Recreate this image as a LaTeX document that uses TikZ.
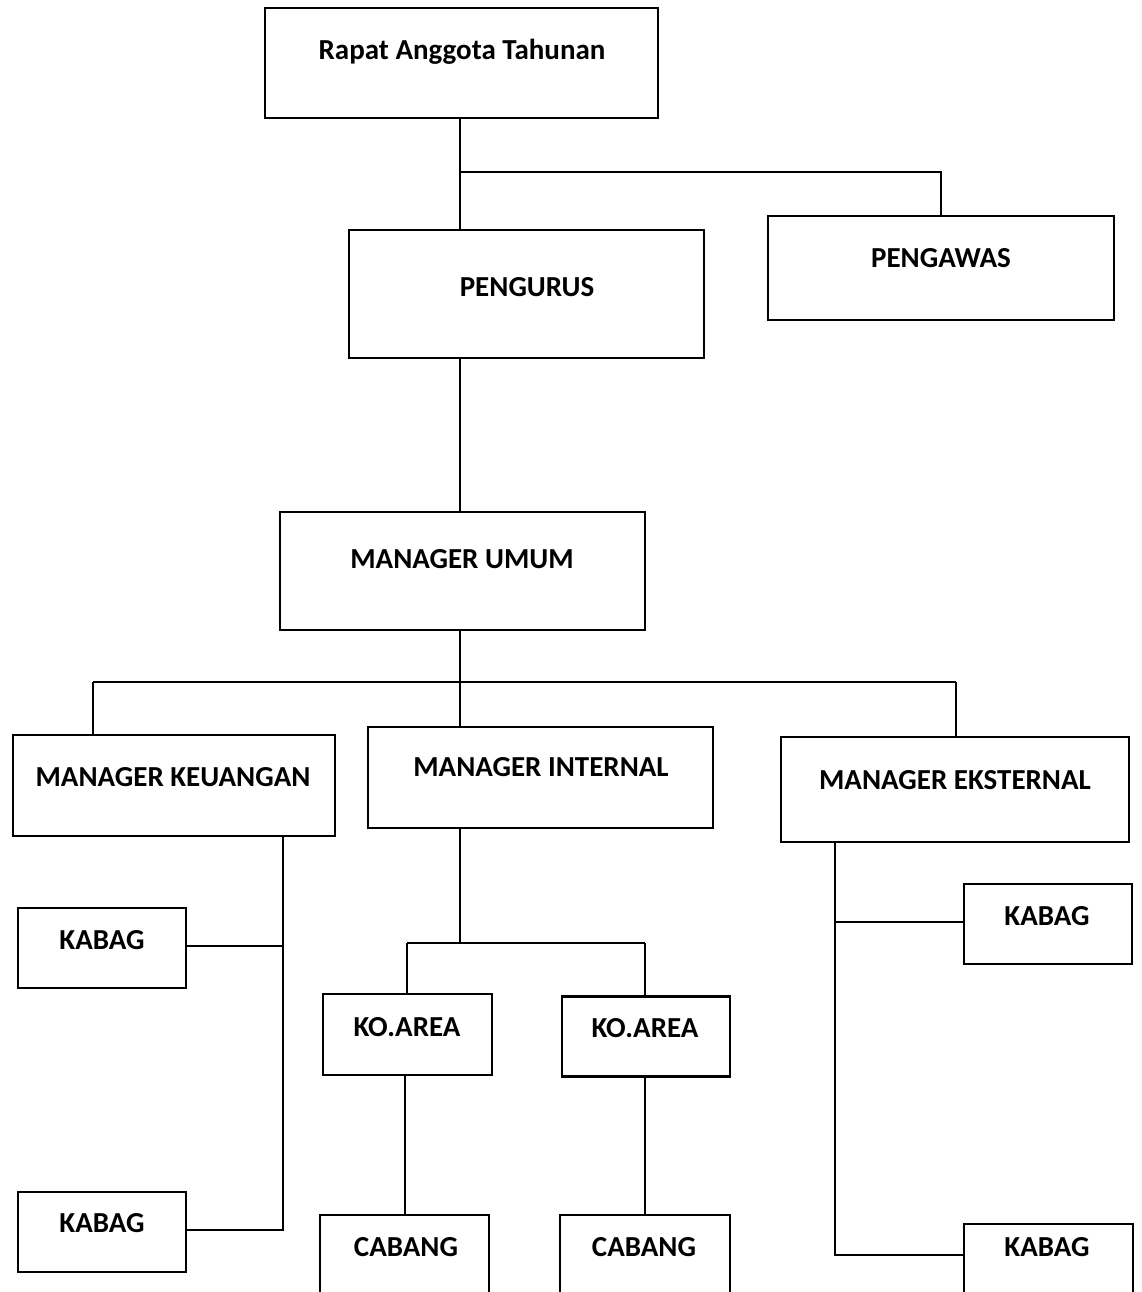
\documentclass[tikz,border=0pt]{standalone}
\usepackage{fontspec}
\setmainfont{Carlito}
\begin{document}
\begin{tikzpicture}[x=1pt,y=-1pt,
  box/.style={draw,line width=2.6pt,rectangle,inner sep=0pt,outer sep=0pt},
  lbl/.style={font=\bfseries\fontsize{29}{33}\selectfont,inner sep=0pt,anchor=base},
  conn/.style={line width=2pt}]
\path[use as bounding box] (0,0) rectangle (1141,1292);
\clip (0,0) rectangle (1141,1292);
% boxes
\node[box,minimum width=393pt,minimum height=110pt] (rat) at (461.5,63) {};
\node[box,minimum width=355pt,minimum height=128pt] (peng) at (526.5,294) {};
\node[box,minimum width=346pt,minimum height=104pt] (pgw) at (941,268) {};
\node[box,minimum width=365pt,minimum height=118pt] (mu) at (462.5,571) {};
\node[box,minimum width=322pt,minimum height=101pt] (mk) at (174,785.5) {};
\node[box,minimum width=345pt,minimum height=101pt] (mi) at (540.5,777.5) {};
\node[box,minimum width=348pt,minimum height=105pt] (me) at (955,789.5) {};
\node[box,minimum width=168pt,minimum height=80pt] (kb1) at (102,948) {};
\node[box,minimum width=168pt,minimum height=80pt] (kb2) at (102,1232) {};
\node[box,minimum width=169pt,minimum height=81pt] (ka1) at (407.5,1034.5) {};
\node[box,minimum width=168pt,minimum height=80pt] (ka2) at (646,1036.5) {};
\node[box,minimum width=169pt,minimum height=120pt] (cb1) at (404.5,1275) {};
\node[box,minimum width=170pt,minimum height=120pt] (cb2) at (645,1275) {};
\node[box,minimum width=168pt,minimum height=80pt] (kb3) at (1048,924) {};
\node[box,minimum width=169pt,minimum height=120pt] (kb4) at (1048.5,1284) {};
% labels
\node[lbl] (tRat) at (462,60) {Rapat Anggota Tahunan};
\node[lbl] (tPeng) at (527,296) {PENGURUS};
\node[lbl] (tPgw) at (941,267.5) {PENGAWAS};
\node[lbl] (tMu) at (462,568.5) {MANAGER UMUM};
\node[lbl] (tMk) at (173,786) {MANAGER KEUANGAN};
\node[lbl] (tMi) at (541,776.5) {MANAGER INTERNAL};
\node[lbl] (tMe) at (955,789.5) {MANAGER EKSTERNAL};
\node[lbl] (tKb1) at (102,949) {KABAG};
\node[lbl] (tKb2) at (102,1232.5) {KABAG};
\node[lbl] (tKa1) at (407,1036.5) {KO.AREA};
\node[lbl] (tKa2) at (645,1037.5) {KO.AREA};
\node[lbl] (tCb1) at (406,1256.5) {CABANG};
\node[lbl] (tCb2) at (644,1256.5) {CABANG};
\node[lbl] (tKb3) at (1047,925.5) {KABAG};
\node[lbl] (tKb4) at (1047,1256.5) {KABAG};
% junction coordinates
\coordinate (j1) at (460,172);
\coordinate (j2) at (460,682);
\coordinate (j3) at (460,943);
\coordinate (kv) at (283,946);
\coordinate (ev) at (835,922);
\coordinate (kl) at (93,682);
\coordinate (kr) at (956,682);
\coordinate (al) at (407,943);
\coordinate (ar) at (645,943);
% connectors
\draw[conn] (rat.south -| j1) -- (j1) -- (j1 |- peng.north);
\draw[conn] (j1) -| (pgw.north);
\draw[conn] (j1 |- peng.south) -- (j1 |- mu.north);
\draw[conn] (j2 |- mu.south) -- (j2) -- (j2 |- mi.north);
\draw[conn] (kl) -- (kr);
\draw[conn] (kl) -- (kl |- mk.north);
\draw[conn] (kr) -- (kr |- me.north);
\draw[conn] (kv |- mk.south) -- (kv) -- (kb1.east |- kv);
\draw[conn] (kv) -- (283,1230) -- (kb2.east |- 0,1230);
\draw[conn] (j3 |- mi.south) -- (j3);
\draw[conn] (al) -- (ar);
\draw[conn] (al) -- (al |- ka1.north);
\draw[conn] (ar) -- (ar |- ka2.north);
\draw[conn] (ka1.south -| 405,0) -- (cb1.north -| 405,0);
\draw[conn] (ka2.south -| 645,0) -- (cb2.north -| 645,0);
\draw[conn] (ev |- me.south) -- (ev) -- (kb3.west |- ev);
\draw[conn] (ev) -- (835,1255) -- (kb4.west |- 0,1255);
\end{tikzpicture}
\end{document}
